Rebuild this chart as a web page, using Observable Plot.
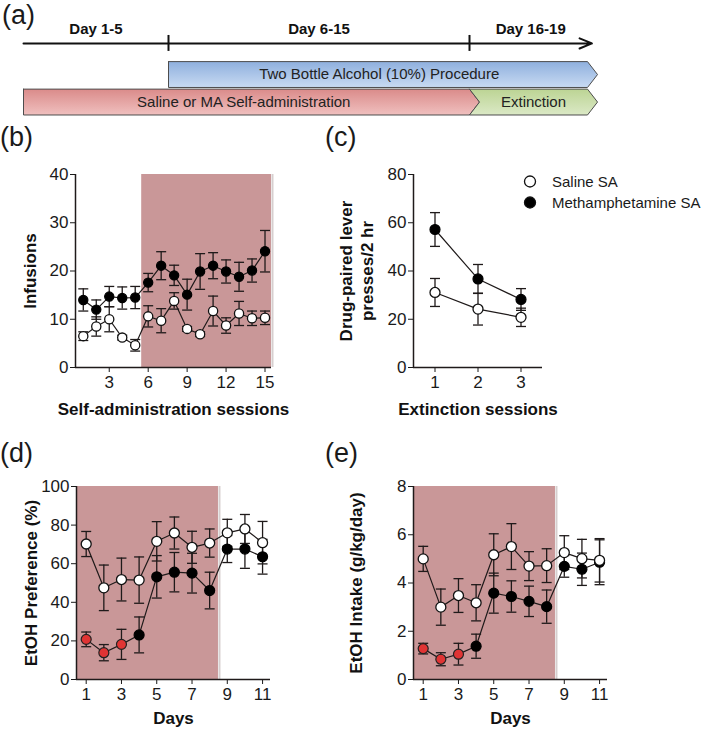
<!DOCTYPE html>
<html>
<head>
<meta charset="utf-8">
<script src="https://cdn.jsdelivr.net/npm/d3@7"></script>
<script src="https://cdn.jsdelivr.net/npm/@observablehq/plot@0.6"></script>
<style>
  body { margin: 0; background: #fff; }
  #fig { position: relative; width: 709px; height: 732px; overflow: hidden; background: #fff;
         font-family: "Liberation Sans", Arial, Helvetica, sans-serif; color: #1a1a1a; }
  .panel { position: absolute; }
  .letter { position: absolute; font-size: 27px; line-height: 1.15; }
  .legend { position: absolute; font-size: 15px; }
  .legend .row { display: flex; align-items: center; height: 21px; }
  .legend svg { display: block; margin-right: 12px; }
</style>
</head>
<body>
<div id="fig"></div>
<script>
// ---------------- DATA ----------------
// (a) timeline
const phases = [
  { label: "Day 1-5", first: 1, last: 5 },
  { label: "Day 6-15", first: 6, last: 15 },
  { label: "Day 16-19", first: 16, last: 19 }
];
const procedures = [
  { key: "alcohol", label: "Two Bottle Alcohol (10%) Procedure", first: 6, last: 19 },
  { key: "sa", label: "Saline or MA Self-administration", first: 1, last: 15 },
  { key: "ext", label: "Extinction", first: 16, last: 19 }
];
const seriesNames = ["Saline SA", "Methamphetamine SA"];

// (b) self-administration
const saSessions = [1, 2, 3, 4, 5, 6, 7, 8, 9, 10, 11, 12, 13, 14, 15];
const saSalineMean = [6.5, 8.5, 10.0, 6.2, 4.6, 10.6, 9.7, 13.8, 8.0, 6.9, 11.7, 8.7, 11.2, 10.2, 10.3];
const saSalineSem  = [0.9, 2.0, 2.6, 0.5, 1.2, 2.2, 2.5, 1.7, 0.5, 0.5, 3.1, 1.6, 2.5, 1.5, 1.4];
const saMaMean     = [14.0, 12.0, 14.7, 14.4, 14.5, 17.6, 21.1, 19.1, 15.1, 19.9, 21.1, 19.9, 18.8, 20.1, 24.1];
const saMaSem      = [2.3, 2.0, 2.1, 2.3, 2.3, 1.9, 2.9, 2.1, 3.2, 3.7, 2.7, 2.4, 3.0, 2.4, 4.3];
const saShadeSessions = [6, 15];
const saTicksX = [3, 6, 9, 12, 15];
const saTicksY = [0, 10, 20, 30, 40];

// (c) extinction
const extSessions = [1, 2, 3];
const extSalineMean = [31.1, 24.2, 20.8];
const extSalineSem  = [5.8, 6.6, 3.8];
const extMaMean     = [57.2, 36.7, 28.2];
const extMaSem      = [7.0, 6.0, 4.5];
const extTicksX = [1, 2, 3];
const extTicksY = [0, 20, 40, 60, 80];

// (d) EtOH preference, (e) EtOH intake
const etohDays = [1, 2, 3, 4, 5, 6, 7, 8, 9, 10, 11];
const prefSalineMean = [70.2, 47.5, 51.8, 51.5, 71.6, 75.9, 68.5, 70.7, 76.0, 78.0, 70.9];
const prefSalineSem  = [6.5, 11.8, 11.1, 12.0, 10.2, 8.3, 8.3, 7.3, 7.0, 7.5, 11.0];
const prefMaMean     = [20.8, 13.9, 18.2, 23.1, 53.2, 55.6, 55.1, 46.1, 67.6, 67.6, 63.6];
const prefMaSem      = [3.8, 4.2, 7.8, 9.3, 11.0, 10.2, 10.3, 9.5, 7.0, 10.0, 9.0];
const intakeSalineMean = [5.0, 3.0, 3.48, 3.18, 5.17, 5.51, 4.70, 4.72, 5.26, 5.01, 4.94];
const intakeSalineSem  = [0.52, 0.75, 0.70, 0.75, 0.87, 0.95, 0.60, 0.70, 0.70, 0.80, 0.90];
const intakeMaMean     = [1.28, 0.84, 1.05, 1.38, 3.58, 3.44, 3.24, 3.02, 4.69, 4.57, 4.86];
const intakeMaSem      = [0.22, 0.27, 0.45, 0.50, 0.83, 0.65, 0.63, 0.69, 0.45, 0.67, 0.93];
const etohShadeDays = [1, 8];
const sigDays = [1, 2, 3];
const etohTicksX = [1, 3, 5, 7, 9, 11];
const prefTicksY = [0, 20, 40, 60, 80, 100];
const intakeTicksY = [0, 2, 4, 6, 8];

// ---------------- STYLE ----------------
const FONT = '"Liberation Sans", Arial, Helvetica, sans-serif';
const INK = "#1f1a1a";
const PINK = "#c99798";
const RED = "#e03434";
const fig = document.getElementById("fig");

function place(el, left, top) {
  const wrap = document.createElement("div");
  wrap.className = "panel";
  wrap.style.left = left + "px";
  wrap.style.top = top + "px";
  wrap.appendChild(el);
  fig.appendChild(wrap);
}

// ---------------- PANEL (a) ----------------
(function () {
  const TL = -0.13, tip = 0.34, half = 0.47;
  const track = { alcohol: 1, sa: 2, ext: 2 };
  const arrowStart = phases[0].first - 0.5;
  const arrowEnd = phases[phases.length - 1].last + 0.65;
  const bounds = phases.slice(1).map(p => p.first - 0.5);
  const edges = [arrowStart, ...bounds, arrowEnd];
  const phaseRows = phases.map((p, i) => ({ label: p.label, mid: (edges[i] + edges[i + 1]) / 2 }));

  const polys = procedures.map(p => {
    const a = p.first - 0.5, b = p.last + 0.5, t = track[p.key];
    const notched = procedures.some(q => q !== p && track[q.key] === t && q.last + 1 === p.first);
    const pts = [[a, t - half], [b, t - half], [b + tip, t], [b, t + half], [a, t + half]];
    if (notched) pts.push([a + tip, t]);
    pts.push([a, t - half]);
    return { key: p.key, label: p.label, mid: (a + b) / 2 + (notched ? tip / 2 : 0), t, pts: pts.map(([x, y]) => ({ x, y })) };
  });

  const marks = [
    ...polys.map(p => Plot.line(p.pts, { x: "x", y: "y", fill: `url(#grad-${p.key})`, stroke: "#4d4d4d", strokeWidth: 1 })),
    Plot.text(polys, { x: "mid", y: "t", text: "label", fontSize: 15, fill: "#222" }),
    Plot.arrow([{ x1: arrowStart, x2: arrowEnd }], { x1: "x1", x2: "x2", y1: TL, y2: TL, stroke: "#111", strokeWidth: 2, headLength: 10, headAngle: 45 }),
    Plot.ruleX(bounds, { y1: TL - 0.29, y2: TL + 0.29, stroke: "#111", strokeWidth: 2 }),
    Plot.text(phaseRows, { x: "mid", y: TL - 0.53, text: "label", fontSize: 15, fontWeight: "bold", fill: "#111" })
  ];
  const svg = Plot.plot({
    width: 709, height: 120, margin: 0,
    x: { type: "linear", domain: [0.5, 5.5, 15.5, 19.5], range: [23, 168, 469, 587], axis: null },
    y: { domain: [-1.69, 2.67], range: [0, 120], axis: null },
    style: { fontFamily: FONT, background: "transparent", overflow: "visible" },
    marks
  });
  const ns = "http://www.w3.org/2000/svg";
  const defs = document.createElementNS(ns, "defs");
  const grads = { alcohol: ["#8fb0de", "#c8daf2"], sa: ["#da8b8a", "#f0c0bf"], ext: ["#bcd494", "#dbe9c6"] };
  defs.innerHTML = Object.entries(grads).map(([k, [c0, c1]]) =>
    `<linearGradient id="grad-${k}" x1="0" y1="0" x2="0" y2="1"><stop offset="0" stop-color="${c0}"/><stop offset="1" stop-color="${c1}"/></linearGradient>`).join("");
  svg.insertBefore(defs, svg.firstChild);
  place(svg, 0, 0);
})();

// ---------------- DATA PANELS ----------------
const cap = { draw(ctx, size) { const w = Math.sqrt(size / Math.PI); ctx.moveTo(-w, 0); ctx.lineTo(w, 0); } };

function makePanel(c) {
  const toRows = (mean, sem) => c.x.map((x, i) => ({ x, y: mean[i], lo: mean[i] - sem[i], hi: mean[i] + sem[i] }));
  const sal = toRows(c.salMean, c.salSem);
  const ma = toRows(c.maMean, c.maSem);
  const sig = c.sig || [];
  const marks = [];
  if (c.shade) {
    const x1 = Math.max(c.xDomain[0], c.shade[0] - 0.5);
    const x2 = c.shade[1] + 0.5;
    marks.push(Plot.rect([{ x1, x2 }], { x1: "x1", x2: "x2", y1: c.yDomain[0], y2: c.yDomain[1], fill: PINK }));
    marks.push(Plot.ruleX([x2], { y1: c.yDomain[0], y2: c.yDomain[1], stroke: "#d6cfcf", strokeWidth: 2, dx: 1 }));
  }
  marks.push(Plot.ruleX([c.xDomain[0]], { stroke: INK, strokeWidth: 1.5 }));
  marks.push(Plot.ruleY([c.yDomain[0]], { stroke: INK, strokeWidth: 1.5 }));
  for (const rows of [ma, sal]) {
    marks.push(Plot.ruleX(rows, { x: "x", y1: "lo", y2: "hi", stroke: INK, strokeWidth: 1.3 }));
    marks.push(Plot.dot(rows, { x: "x", y: "lo", symbol: cap, r: 5, stroke: INK, strokeWidth: 1.3, fill: "none" }));
    marks.push(Plot.dot(rows, { x: "x", y: "hi", symbol: cap, r: 5, stroke: INK, strokeWidth: 1.3, fill: "none" }));
  }
  for (const rows of [ma, sal]) {
    marks.push(Plot.line(rows, { x: "x", y: "y", stroke: INK, strokeWidth: 1.2 }));
  }
  marks.push(Plot.dot(ma, { x: "x", y: "y", r: c.r, fill: "#000", stroke: "#000", strokeWidth: 1.2, filter: d => !sig.includes(d.x) }));
  marks.push(Plot.dot(ma, { x: "x", y: "y", r: c.r, fill: RED, stroke: "#222", strokeWidth: 1.2, filter: d => sig.includes(d.x) }));
  marks.push(Plot.dot(sal, { x: "x", y: "y", r: c.r, fill: "#fff", stroke: "#111", strokeWidth: 1.3 }));
  marks.push(Plot.text([c.yLabel], { text: d => d, frameAnchor: "left", textAnchor: "middle", rotate: -90, dx: c.yLabelDx, fontSize: 17, fontWeight: "bold", lineHeight: 1.2, lineAnchor: "middle", fill: "#111" }));
  marks.push(Plot.text([c.xLabel], { text: d => d, frameAnchor: "bottom", textAnchor: "middle", dy: c.xLabelDy, fontSize: 17, fontWeight: "bold", lineAnchor: "middle", fill: "#111" }));

  const svg = Plot.plot({
    width: c.width, height: c.height,
    marginLeft: c.m[0], marginRight: c.m[1], marginTop: c.m[2], marginBottom: c.m[3],
    x: { domain: c.xDomain, ticks: c.xTicks, tickFormat: d => String(d), tickSize: 5, tickPadding: 3, label: null },
    y: { domain: c.yDomain, ticks: c.yTicks, tickFormat: d => String(d), tickSize: 5, tickPadding: 2, label: null },
    style: { fontFamily: FONT, fontSize: "17px", color: "#1a1a1a", background: "transparent", overflow: "visible" },
    marks
  });
  place(svg, c.left, c.top);
}

makePanel({
  left: 0, top: 120, width: 330, height: 305, m: [75, 59, 54, 58],
  x: saSessions, salMean: saSalineMean, salSem: saSalineSem, maMean: saMaMean, maSem: saMaSem,
  xDomain: [0.4, 15.5], yDomain: [0, 40], xTicks: saTicksX, yTicks: saTicksY,
  shade: saShadeSessions, r: 4.6,
  yLabel: "Infusions", yLabelDx: -46, xLabel: "Self-administration sessions", xLabelDy: 42
});
makePanel({
  left: 330, top: 120, width: 379, height: 305, m: [83, 167, 54, 58],
  x: extSessions, salMean: extSalineMean, salSem: extSalineSem, maMean: extMaMean, maSem: extMaSem,
  xDomain: [0.5, 3.5], yDomain: [0, 80], xTicks: extTicksX, yTicks: extTicksY,
  shade: null, r: 5,
  yLabel: "Drug-paired lever\npresses/2 hr", yLabelDx: -57.5, xLabel: "Extinction sessions", xLabelDy: 42
});
makePanel({
  left: 0, top: 425, width: 330, height: 307, m: [76, 60, 61, 53],
  x: etohDays, salMean: prefSalineMean, salSem: prefSalineSem, maMean: prefMaMean, maSem: prefMaSem,
  xDomain: [0.45, 11.45], yDomain: [0, 100], xTicks: etohTicksX, yTicks: prefTicksY,
  shade: etohShadeDays, sig: sigDays, r: 5,
  yLabel: "EtOH Preference (%)", yLabelDx: -46, xLabel: "Days", xLabelDy: 39
});
makePanel({
  left: 330, top: 425, width: 379, height: 307, m: [83, 102, 61, 53],
  x: etohDays, salMean: intakeSalineMean, salSem: intakeSalineSem, maMean: intakeMaMean, maSem: intakeMaSem,
  xDomain: [0.45, 11.45], yDomain: [0, 8], xTicks: etohTicksX, yTicks: intakeTicksY,
  shade: etohShadeDays, sig: sigDays, r: 5,
  yLabel: "EtOH Intake (g/kg/day)", yLabelDx: -58, xLabel: "Days", xLabelDy: 39
});

// ---------------- LETTERS & LEGEND ----------------
[["(a)", 2, 0], ["(b)", 0, 122], ["(c)", 325, 122], ["(d)", 0, 438], ["(e)", 325, 438]].forEach(([t, l, tp]) => {
  const d = document.createElement("div");
  d.className = "letter"; d.textContent = t;
  d.style.left = l + "px"; d.style.top = tp + "px";
  fig.appendChild(d);
});
const legend = document.createElement("div");
legend.className = "legend";
legend.style.left = "520px"; legend.style.top = "171px";
seriesNames.forEach((name, i) => {
  const row = document.createElement("div");
  row.className = "row";
  const fill = i === 0 ? "#fff" : "#000";
  row.innerHTML = `<svg width="20" height="21"><circle cx="10" cy="10.5" r="5.5" fill="${fill}" stroke="#111" stroke-width="1.3"/></svg><span>${name}</span>`;
  legend.appendChild(row);
});
fig.appendChild(legend);
</script>
</body>
</html>
